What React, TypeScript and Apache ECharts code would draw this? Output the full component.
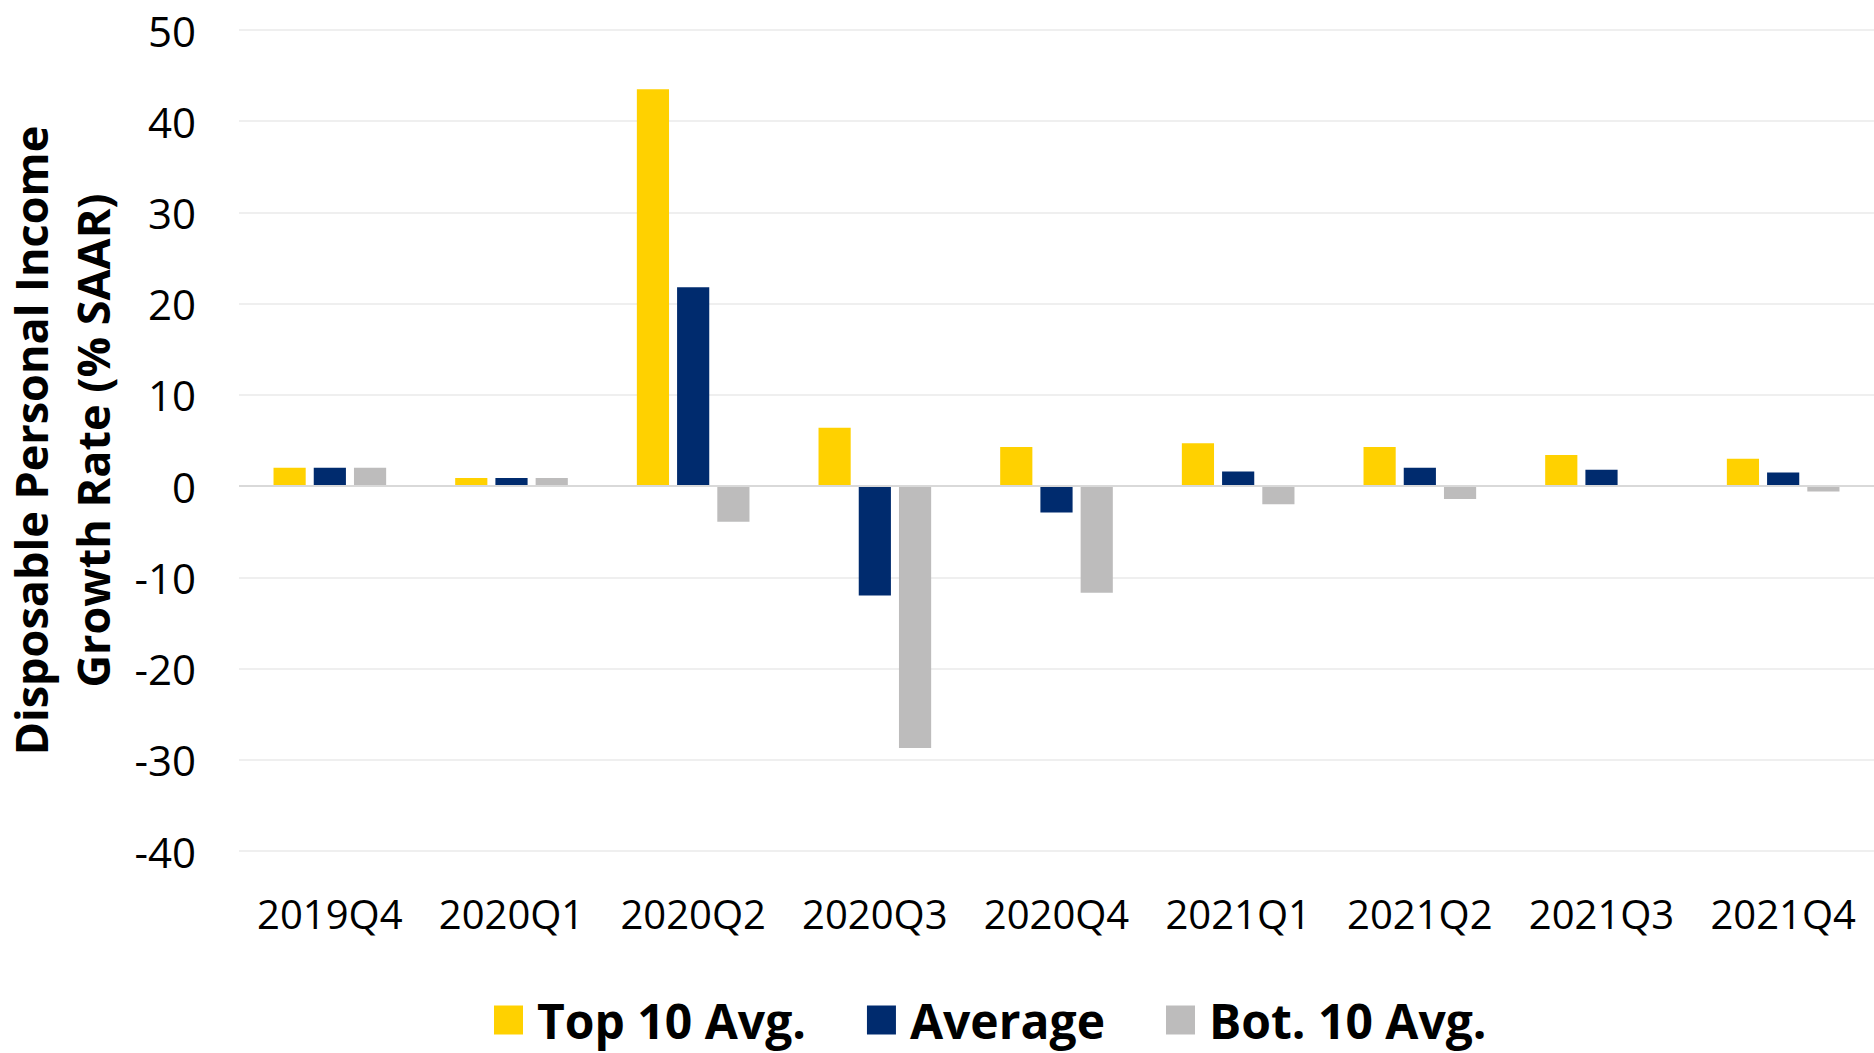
import React, { useEffect, useRef } from "react";
import * as echarts from "echarts";

const categories = ["2019Q4", "2020Q1", "2020Q2", "2020Q3", "2020Q4", "2021Q1", "2021Q2", "2021Q3", "2021Q4"];
const top10Avg = [2.0, 0.9, 43.5, 6.4, 4.3, 4.7, 4.3, 3.4, 3.0];
const averageVals = [2.0, 0.9, 21.8, -12.0, -2.9, 1.6, 2.0, 1.8, 1.5];
const bot10Avg = [2.0, 0.9, -3.9, -28.7, -11.7, -2.0, -1.4, 0, -0.6];
const seriesNames = ["Top 10 Avg.", "Average", "Bot. 10 Avg."];
const colors = ["#FFD100", "#002B6E", "#BDBCBC"];

const FONT = "'Open Sans', 'Noto Sans', sans-serif";

export default function App() {
  const ref = useRef<HTMLDivElement>(null);
  useEffect(() => {
    document.body.style.margin = "0";
    if (!ref.current) return;
    const chart = echarts.init(ref.current, null, { renderer: "svg" });
    const values = [top10Avg, averageVals, bot10Avg];
    chart.setOption({
      animation: false,
      backgroundColor: "#ffffff",
      textStyle: { fontFamily: FONT },
      grid: {
        left: 239,
        right: 0,
        top: 30,
        bottom: 202,
        containLabel: false,
        outerBoundsMode: "none",
      },
      legend: {
        left: 494,
        top: 991,
        padding: 0,
        itemWidth: 29,
        itemHeight: 29,
        itemGap: 61,
        icon: "rect",
        textStyle: {
          fontFamily: FONT,
          fontSize: 48,
          fontWeight: "bold",
          color: "#000",
          lineHeight: 58,
          padding: [0, 0, 0, 9],
        },
        data: seriesNames,
      },
      xAxis: {
        type: "category",
        data: categories,
        axisLine: { show: false, onZero: false },
        axisTick: { show: false },
        axisLabel: { interval: 0, fontSize: 40, color: "#000", margin: 42, fontFamily: FONT },
        splitLine: { show: false },
      },
      yAxis: {
        type: "value",
        min: -40,
        max: 50,
        interval: 10,
        axisLine: { show: false },
        axisTick: { show: false },
        axisLabel: { fontSize: 42, color: "#000", margin: 43, fontFamily: FONT },
        splitLine: { show: true, lineStyle: { color: "#EFEFEF", width: 2 } },
        name: "Disposable Personal Income\nGrowth Rate (% SAAR)",
        nameLocation: "middle",
        nameGap: 112,
        nameRotate: 90,
        nameTextStyle: {
          fontSize: 45,
          fontWeight: "bold",
          color: "#000",
          lineHeight: 62,
          fontFamily: FONT,
        },
      },
      series: seriesNames.map((name, i) => ({
        name,
        type: "bar",
        data: values[i],
        barGap: "25%",
        barCategoryGap: "38%",
        itemStyle: { color: colors[i] },
        ...(i === 0
          ? {
              markLine: {
                silent: true,
                symbol: "none",
                label: { show: false },
                lineStyle: { color: "#D9D9D9", width: 2, type: "solid" },
                data: [{ yAxis: 0 }],
              },
            }
          : {}),
      })),
    });
    return () => chart.dispose();
  }, []);
  return (
    <div
      ref={ref}
      style={{ position: "fixed", left: 0, top: 0, width: 1874, height: 1053 }}
    />
  );
}
